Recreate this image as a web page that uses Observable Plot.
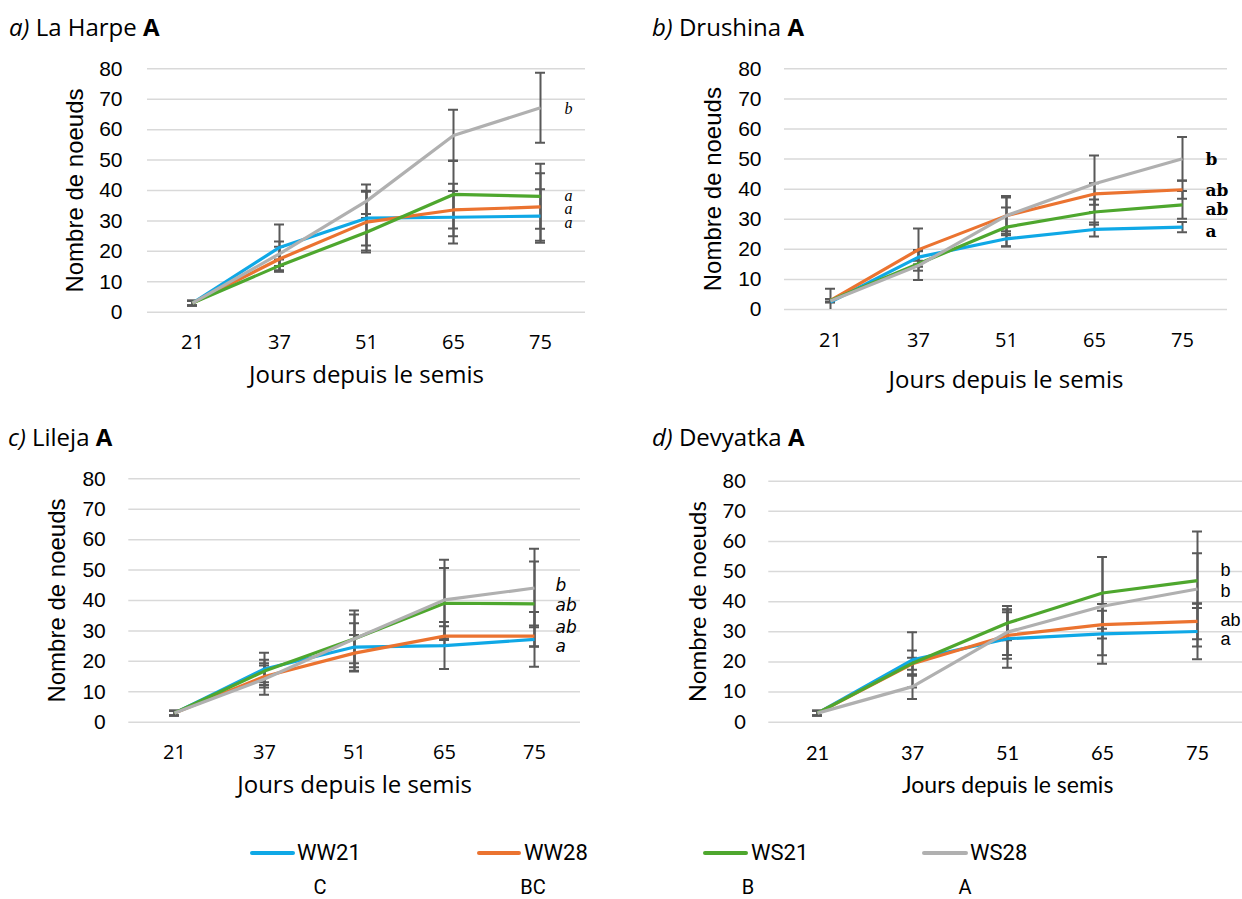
<!DOCTYPE html>
<html><head><meta charset="utf-8">
<script src="https://cdn.jsdelivr.net/npm/d3@7"></script>
<script src="https://cdn.jsdelivr.net/npm/@observablehq/plot@0.6"></script>
<style>
html,body{margin:0;padding:0;background:#fff;overflow:hidden}
#root{position:relative;width:1242px;height:899px;overflow:hidden;background:#fff}
.panel{position:absolute}
.title{position:absolute;font-family:"Open Sans",sans-serif;font-size:24px;line-height:28px;white-space:nowrap;color:#000}
.lg{position:absolute;font-family:Roboto,sans-serif;font-size:22px;line-height:18px;white-space:nowrap;color:#000}
.lg.grp{font-size:20px}
.sw{position:absolute;height:4px;border-radius:2px}
</style></head>
<body><div id="root"></div>
<script>
// ---- data ----
const days = ["21", "37", "51", "65", "75"];
const treatments = ["WW21", "WW28", "WS21", "WS28"];
const colors = ["#0FA8E6", "#EB7330", "#4EA72E", "#B0B0B0"];
const yTicks = [0, 10, 20, 30, 40, 50, 60, 70, 80];
const groupLetters = ["C", "BC", "B", "A"];

// a) La Harpe
const laHarpeWW21 = [3, 21.3, 30.9, 31.2, 31.6];
const laHarpeWW21err = [0.8, 7.5, 9, 8.6, 8.8];
const laHarpeWW28 = [3, 17.5, 29.6, 33.6, 34.6];
const laHarpeWW28err = [0.8, 4, 10, 8.6, 11.1];
const laHarpeWS21 = [3, 15.3, 26.3, 38.7, 38.1];
const laHarpeWS21err = [0.8, 2, 6, 11.2, 10.7];
const laHarpeWS28 = [3, 19.2, 36.5, 58.1, 67.2];
const laHarpeWS28err = [0.8, 4, 5.5, 8.4, 11.5];
const laHarpeLetters = ["b", "a", "a", "a"];
const laHarpeLetterY = [66.8, 38.2, 34.1, 29.5];

// b) Drushina
const drushinaWW21 = [2.5, 17.4, 23.5, 26.6, 27.4];
const drushinaWW21err = [4.4, 2.4, 2.5, 2.3, 1.7];
const drushinaWW28 = [3, 19.9, 31.2, 38.4, 39.8];
const drushinaWW28err = [0.5, 7, 6.5, 3.6, 3];
const drushinaWS21 = [3, 15.2, 27.4, 32.4, 34.8];
const drushinaWS21err = [0.5, 1, 6.5, 4.2, 4.6];
const drushinaWS28 = [2.8, 14.6, 31.2, 41.8, 50.1];
const drushinaWS28err = [0.5, 4.8, 6, 9.4, 7.2];
const drushinaLetters = ["b", "ab", "ab", "a"];
const drushinaLetterY = [49.9, 39.6, 33.1, 25.8];

// c) Lileja
const lilejaWW21 = [3, 17.5, 24.7, 25.2, 27.2];
const lilejaWW21err = [0.8, 5.3, 7.8, 7.7, 9];
const lilejaWW28 = [3, 15, 22.7, 28.3, 28.3];
const lilejaWW28err = [0.8, 3.6, 6, 3.2, 3.5];
const lilejaWS21 = [3, 16.8, 27.4, 39.1, 38.9];
const lilejaWS21err = [0.8, 3.7, 9.3, 11.6, 13.9];
const lilejaWS28 = [3, 14.2, 27.4, 40.2, 44.1];
const lilejaWS28err = [0.8, 5.2, 8, 13.2, 12.9];
const lilejaLetters = ["b", "ab", "ab", "a"];
const lilejaLetterY = [44.8, 38.5, 31.2, 25];

// d) Devyatka
const devyatkaWW21 = [3, 20.7, 27.7, 29.3, 30.1];
const devyatkaWW21err = [0.8, 9.2, 9.6, 9.9, 9.2];
const devyatkaWW28 = [3, 19.4, 28.8, 32.4, 33.5];
const devyatkaWW28err = [0.8, 2, 7.7, 4.6, 6];
const devyatkaWS21 = [3, 19.6, 32.9, 42.9, 47];
const devyatkaWS21err = [0.8, 4.2, 5.7, 11.9, 9.1];
const devyatkaWS28 = [3, 11.8, 29.9, 38.5, 44.2];
const devyatkaWS28err = [0.8, 4.1, 7.6, 16.3, 19.1];
const devyatkaLetters = ["b", "b", "ab", "a"];
const devyatkaLetterY = [50.3, 43.4, 33.9, 27.5];

// ---- build ----
function rowsOf(vals, errs) {
  const rows = [];
  treatments.forEach((t, i) => days.forEach((d, j) => rows.push({treat: t, day: d, v: vals[i][j], e: errs[i][j]})));
  return rows;
}

const root = document.getElementById("root");

function panel(cfg) {
  const rows = rowsOf(cfg.vals, cfg.errs);
  const letterRows = cfg.letters.map((l, i) => ({l, y: cfg.letterY[i]}));
  const errStyle = {stroke: "#595959", strokeWidth: 2, clip: true};
  const plot = Plot.plot({
    width: cfg.width, height: cfg.height,
    marginLeft: cfg.mL, marginRight: cfg.mR, marginTop: cfg.mT, marginBottom: cfg.mB,
    x: {type: "point", domain: days, padding: 0.5, label: null},
    y: {domain: [0, 80], label: null},
    color: {domain: treatments, range: colors},
    style: {background: "transparent", color: "#000", overflow: "visible"},
    marks: [
      Plot.gridY(yTicks, {stroke: "#D9D9D9", strokeOpacity: 1, strokeWidth: 1.5}),
      Plot.axisY(yTicks, {tickSize: 0, tickPadding: cfg.yPad, fontSize: cfg.yTickSize, fontFamily: cfg.yFont, label: null, fill: "#000"}),
      Plot.axisX(days, {tickSize: 0, tickPadding: cfg.xPad, fontSize: cfg.xTickSize, fontFamily: cfg.xFont, label: null, fill: "#000"}),
      Plot.ruleX(rows, {x: "day", y1: d => d.v - d.e, y2: d => d.v + d.e, ...errStyle}),
      Plot.ruleY(rows, {x1: "day", x2: "day", y: d => d.v + d.e, insetLeft: -5, insetRight: -5, ...errStyle}),
      Plot.ruleY(rows, {x1: "day", x2: "day", y: d => d.v - d.e, insetLeft: -5, insetRight: -5, ...errStyle}),
      Plot.line(rows, {x: "day", y: "v", z: "treat", stroke: "treat", strokeWidth: 3.2, strokeLinejoin: "round", strokeLinecap: "butt"}),
      Plot.text(letterRows, {x: () => "75", y: "y", text: "l", dx: cfg.letterDx, textAnchor: "start",
        fontFamily: cfg.letterFont, fontSize: cfg.letterSize, fontStyle: cfg.letterStyle, fontWeight: cfg.letterWeight, fill: "#000"}),
      Plot.text(["Nombre de noeuds"], {text: d => d, frameAnchor: "left", textAnchor: "middle", lineAnchor: "middle",
        dx: cfg.yLabelDx, rotate: -90, fontFamily: cfg.yLabelFont, fontSize: cfg.yLabelSize, fill: "#000"}),
      Plot.text(["Jours depuis le semis"], {text: d => d, frameAnchor: "bottom", textAnchor: "middle", lineAnchor: "middle",
        dy: cfg.xLabelDy, fontFamily: cfg.xFont, fontSize: cfg.xLabelSize, fill: "#000"})
    ]
  });
  plot.classList.add("panel");
  plot.style.left = cfg.left + "px";
  plot.style.top = cfg.top + "px";
  root.appendChild(plot);

  const t = document.createElement("div");
  t.className = "title";
  t.style.left = cfg.titleX + "px";
  t.style.top = cfg.titleY + "px";
  t.innerHTML = `<i>${cfg.tag}</i> ${cfg.name} <b>A</b>`;
  root.appendChild(t);
}

const sansA = "Liberation Sans, Arial, sans-serif";
const aptos = "Open Sans, sans-serif";
const calibri = "Lato, sans-serif";

panel({
  tag: "a)", name: "La Harpe", titleX: 9, titleY: 13,
  left: 0, top: 40, width: 621, height: 370, mL: 147, mR: 36, mT: 28.3, mB: 98.3,
  vals: [laHarpeWW21, laHarpeWW28, laHarpeWS21, laHarpeWS28],
  errs: [laHarpeWW21err, laHarpeWW28err, laHarpeWS21err, laHarpeWS28err],
  letters: laHarpeLetters, letterY: laHarpeLetterY, letterDx: 24,
  letterFont: "Liberation Serif, serif", letterSize: 16, letterStyle: "italic", letterWeight: "normal",
  yFont: sansA, yTickSize: 21, yPad: 25, yLabelFont: sansA, yLabelSize: 24, yLabelDx: -72,
  xFont: aptos, xTickSize: 20, xPad: 23, xLabelSize: 24, xLabelDy: 63
});
panel({
  tag: "b)", name: "Drushina", titleX: 652, titleY: 13,
  left: 621, top: 40, width: 621, height: 370, mL: 163, mR: 15, mT: 28.3, mB: 101,
  vals: [drushinaWW21, drushinaWW28, drushinaWS21, drushinaWS28],
  errs: [drushinaWW21err, drushinaWW28err, drushinaWS21err, drushinaWS28err],
  letters: drushinaLetters, letterY: drushinaLetterY, letterDx: 23,
  letterFont: "DejaVu Serif, serif", letterSize: 17, letterStyle: "normal", letterWeight: "bold",
  yFont: sansA, yTickSize: 21, yPad: 23, yLabelFont: sansA, yLabelSize: 24, yLabelDx: -71,
  xFont: aptos, xTickSize: 20, xPad: 23, xLabelSize: 24, xLabelDy: 71
});
panel({
  tag: "c)", name: "Lileja", titleX: 8, titleY: 423,
  left: 0, top: 450, width: 621, height: 370, mL: 128.3, mR: 41, mT: 28.3, mB: 98.3,
  vals: [lilejaWW21, lilejaWW28, lilejaWS21, lilejaWS28],
  errs: [lilejaWW21err, lilejaWW28err, lilejaWS21err, lilejaWS28err],
  letters: lilejaLetters, letterY: lilejaLetterY, letterDx: 21,
  letterFont: "DejaVu Sans, sans-serif", letterSize: 17, letterStyle: "italic", letterWeight: "normal",
  yFont: sansA, yTickSize: 21, yPad: 23, yLabelFont: sansA, yLabelSize: 24, yLabelDx: -71.6,
  xFont: aptos, xTickSize: 20, xPad: 23, xLabelSize: 24, xLabelDy: 63
});
panel({
  tag: "d)", name: "Devyatka", titleX: 652, titleY: 423,
  left: 621, top: 450, width: 625, height: 370, mL: 147.3, mR: 0, mT: 30.7, mB: 98.3,
  vals: [devyatkaWW21, devyatkaWW28, devyatkaWS21, devyatkaWS28],
  errs: [devyatkaWW21err, devyatkaWW28err, devyatkaWS21err, devyatkaWS28err],
  letters: devyatkaLetters, letterY: devyatkaLetterY, letterDx: 23,
  letterFont: "Liberation Sans, Arial, sans-serif", letterSize: 18, letterStyle: "normal", letterWeight: "normal",
  yFont: calibri, yTickSize: 20, yPad: 23, yLabelFont: calibri, yLabelSize: 24, yLabelDx: -70,
  xFont: calibri, xTickSize: 20, xPad: 24, xLabelSize: 23, xLabelDy: 63
});

// ---- legend ----
const swatchX = [250, 477, 703, 922];
const swatchW = [45, 44, 45, 46];
const labelX = [297, 524, 751, 970];
const groupX = [320, 533, 748, 965];
treatments.forEach((t, i) => {
  const s = document.createElement("div");
  s.className = "sw";
  s.style.left = swatchX[i] + "px"; s.style.top = "851px"; s.style.width = swatchW[i] + "px";
  s.style.background = colors[i];
  root.appendChild(s);
  const l = document.createElement("div");
  l.className = "lg";
  l.style.left = labelX[i] + "px"; l.style.top = "844px";
  l.textContent = t;
  root.appendChild(l);
  const g = document.createElement("div");
  g.className = "lg grp";
  g.style.left = (groupX[i] - 30) + "px"; g.style.width = "60px"; g.style.textAlign = "center"; g.style.top = "878px";
  g.textContent = groupLetters[i];
  root.appendChild(g);
});
</script></body></html>
